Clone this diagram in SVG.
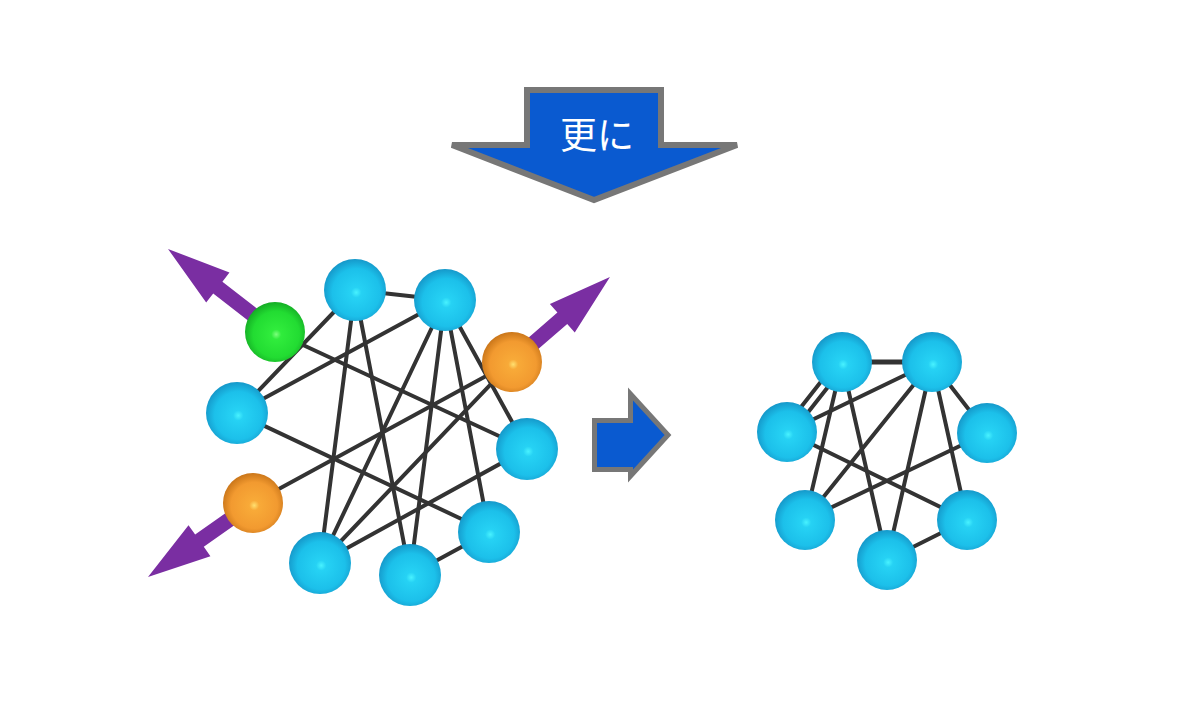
<svg xmlns="http://www.w3.org/2000/svg" width="1200" height="713" viewBox="0 0 1200 713">
<defs>
<radialGradient id="gBlue" cx="52%" cy="54%" r="55%">
<stop offset="0" stop-color="#48f2ff"/>
<stop offset="0.15" stop-color="#26d2f4"/>
<stop offset="0.7" stop-color="#1cc0ea"/>
<stop offset="1" stop-color="#1596c8"/>
</radialGradient>
<radialGradient id="gGreen" cx="52%" cy="54%" r="55%">
<stop offset="0" stop-color="#7cff7c"/>
<stop offset="0.15" stop-color="#30ec3c"/>
<stop offset="0.7" stop-color="#22dc32"/>
<stop offset="1" stop-color="#14aa24"/>
</radialGradient>
<radialGradient id="gOrange" cx="52%" cy="54%" r="55%">
<stop offset="0" stop-color="#ffe070"/>
<stop offset="0.15" stop-color="#f8aa38"/>
<stop offset="0.7" stop-color="#f29a30"/>
<stop offset="1" stop-color="#c87418"/>
</radialGradient>
<path id="pArrow" d="M0,-7.5 L72,-7.5 L72,-19 L135,0 L72,19 L72,7.5 L0,7.5 Z"/>
</defs>
<style>
.edge{stroke:#333333;stroke-width:4;stroke-linecap:round;fill:none}
.bigarrow{fill:#0a5ad0;stroke:#777777;stroke-width:6;stroke-linejoin:miter}
.smallarrow{fill:#0a5ad0;stroke:#777777;stroke-width:5}
.purple{fill:#7a2ea2}
.blue{fill:url(#gBlue)}
.green{fill:url(#gGreen)}
.orange{fill:url(#gOrange)}
.label{font-family:"Noto Sans CJK JP","Noto Sans",sans-serif;font-size:37px;font-weight:400;fill:#ffffff;text-anchor:middle}
</style>
<rect width="1200" height="713" fill="#ffffff"/>

<g id="arrow-further">
<polygon class="bigarrow" points="527,90 661,90 661,145 737,145 594,200 452,145 527,145"/>
<text class="label" x="597" y="149">更に</text>
</g>

<g id="arrow-next">
<polygon class="smallarrow" points="594.5,420.5 630.5,420.5 630.5,394 668,435 630.5,476 630.5,469.5 594.5,469.5"/>
</g>

<g id="purple-arrows">
<use href="#pArrow" class="purple" transform="translate(274.7,331.7) rotate(-142.2)"/>
<use href="#pArrow" class="purple" transform="translate(507.9,365.4) rotate(-40.9)"/>
<use href="#pArrow" class="purple" transform="translate(258.3,499.2) rotate(144.8)"/>
</g>

<g id="connectors">
<!-- left graph -->
<line class="edge" x1="355" y1="290" x2="445" y2="300"/>
<line class="edge" x1="355" y1="290" x2="237" y2="413"/>
<line class="edge" x1="445" y1="300" x2="237" y2="413"/>
<line class="edge" x1="275" y1="332" x2="527" y2="449"/>
<line class="edge" x1="355" y1="290" x2="320" y2="563"/>
<line class="edge" x1="355" y1="290" x2="410" y2="575"/>
<line class="edge" x1="445" y1="300" x2="320" y2="563"/>
<line class="edge" x1="445" y1="300" x2="410" y2="575"/>
<line class="edge" x1="445" y1="300" x2="489" y2="532"/>
<line class="edge" x1="445" y1="300" x2="527" y2="449"/>
<line class="edge" x1="512" y1="362" x2="253" y2="503"/>
<line class="edge" x1="512" y1="362" x2="320" y2="563"/>
<line class="edge" x1="237" y1="413" x2="489" y2="532"/>
<line class="edge" x1="527" y1="449" x2="320" y2="563"/>
<line class="edge" x1="410" y1="575" x2="489" y2="532"/>
<!-- right graph -->
<line class="edge" x1="842" y1="362" x2="932" y2="362" style="stroke-width:5"/>
<line class="edge" x1="838" y1="360" x2="783" y2="430"/>
<line class="edge" x1="846" y1="364" x2="791" y2="434"/>
<line class="edge" x1="787" y1="432" x2="932" y2="362"/>
<line class="edge" x1="842" y1="362" x2="805" y2="520"/>
<line class="edge" x1="842" y1="362" x2="887" y2="560"/>
<line class="edge" x1="932" y1="362" x2="805" y2="520"/>
<line class="edge" x1="932" y1="362" x2="887" y2="560"/>
<line class="edge" x1="932" y1="362" x2="967" y2="520"/>
<line class="edge" x1="932" y1="362" x2="987" y2="433"/>
<line class="edge" x1="787" y1="432" x2="967" y2="520"/>
<line class="edge" x1="987" y1="433" x2="805" y2="520"/>
<line class="edge" x1="887" y1="560" x2="967" y2="520"/>
</g>

<g id="left-nodes">
<g id="n-top1"><circle class="blue" cx="355" cy="290" r="31"/></g>
<g id="n-top2"><circle class="blue" cx="445" cy="300" r="31"/></g>
<g id="n-green"><circle class="green" cx="275" cy="332" r="30"/></g>
<g id="n-orange-r"><circle class="orange" cx="512" cy="362" r="30"/></g>
<g id="n-left"><circle class="blue" cx="237" cy="413" r="31"/></g>
<g id="n-right"><circle class="blue" cx="527" cy="449" r="31"/></g>
<g id="n-orange-l"><circle class="orange" cx="253" cy="503" r="30"/></g>
<g id="n-bot1"><circle class="blue" cx="320" cy="563" r="31"/></g>
<g id="n-bot2"><circle class="blue" cx="410" cy="575" r="31"/></g>
<g id="n-bot3"><circle class="blue" cx="489" cy="532" r="31"/></g>
</g>

<g id="right-nodes">
<g id="m-top1"><circle class="blue" cx="842" cy="362" r="30"/></g>
<g id="m-top2"><circle class="blue" cx="932" cy="362" r="30"/></g>
<g id="m-left"><circle class="blue" cx="787" cy="432" r="30"/></g>
<g id="m-right"><circle class="blue" cx="987" cy="433" r="30"/></g>
<g id="m-botl"><circle class="blue" cx="805" cy="520" r="30"/></g>
<g id="m-botr"><circle class="blue" cx="967" cy="520" r="30"/></g>
<g id="m-bot"><circle class="blue" cx="887" cy="560" r="30"/></g>
</g>
</svg>
